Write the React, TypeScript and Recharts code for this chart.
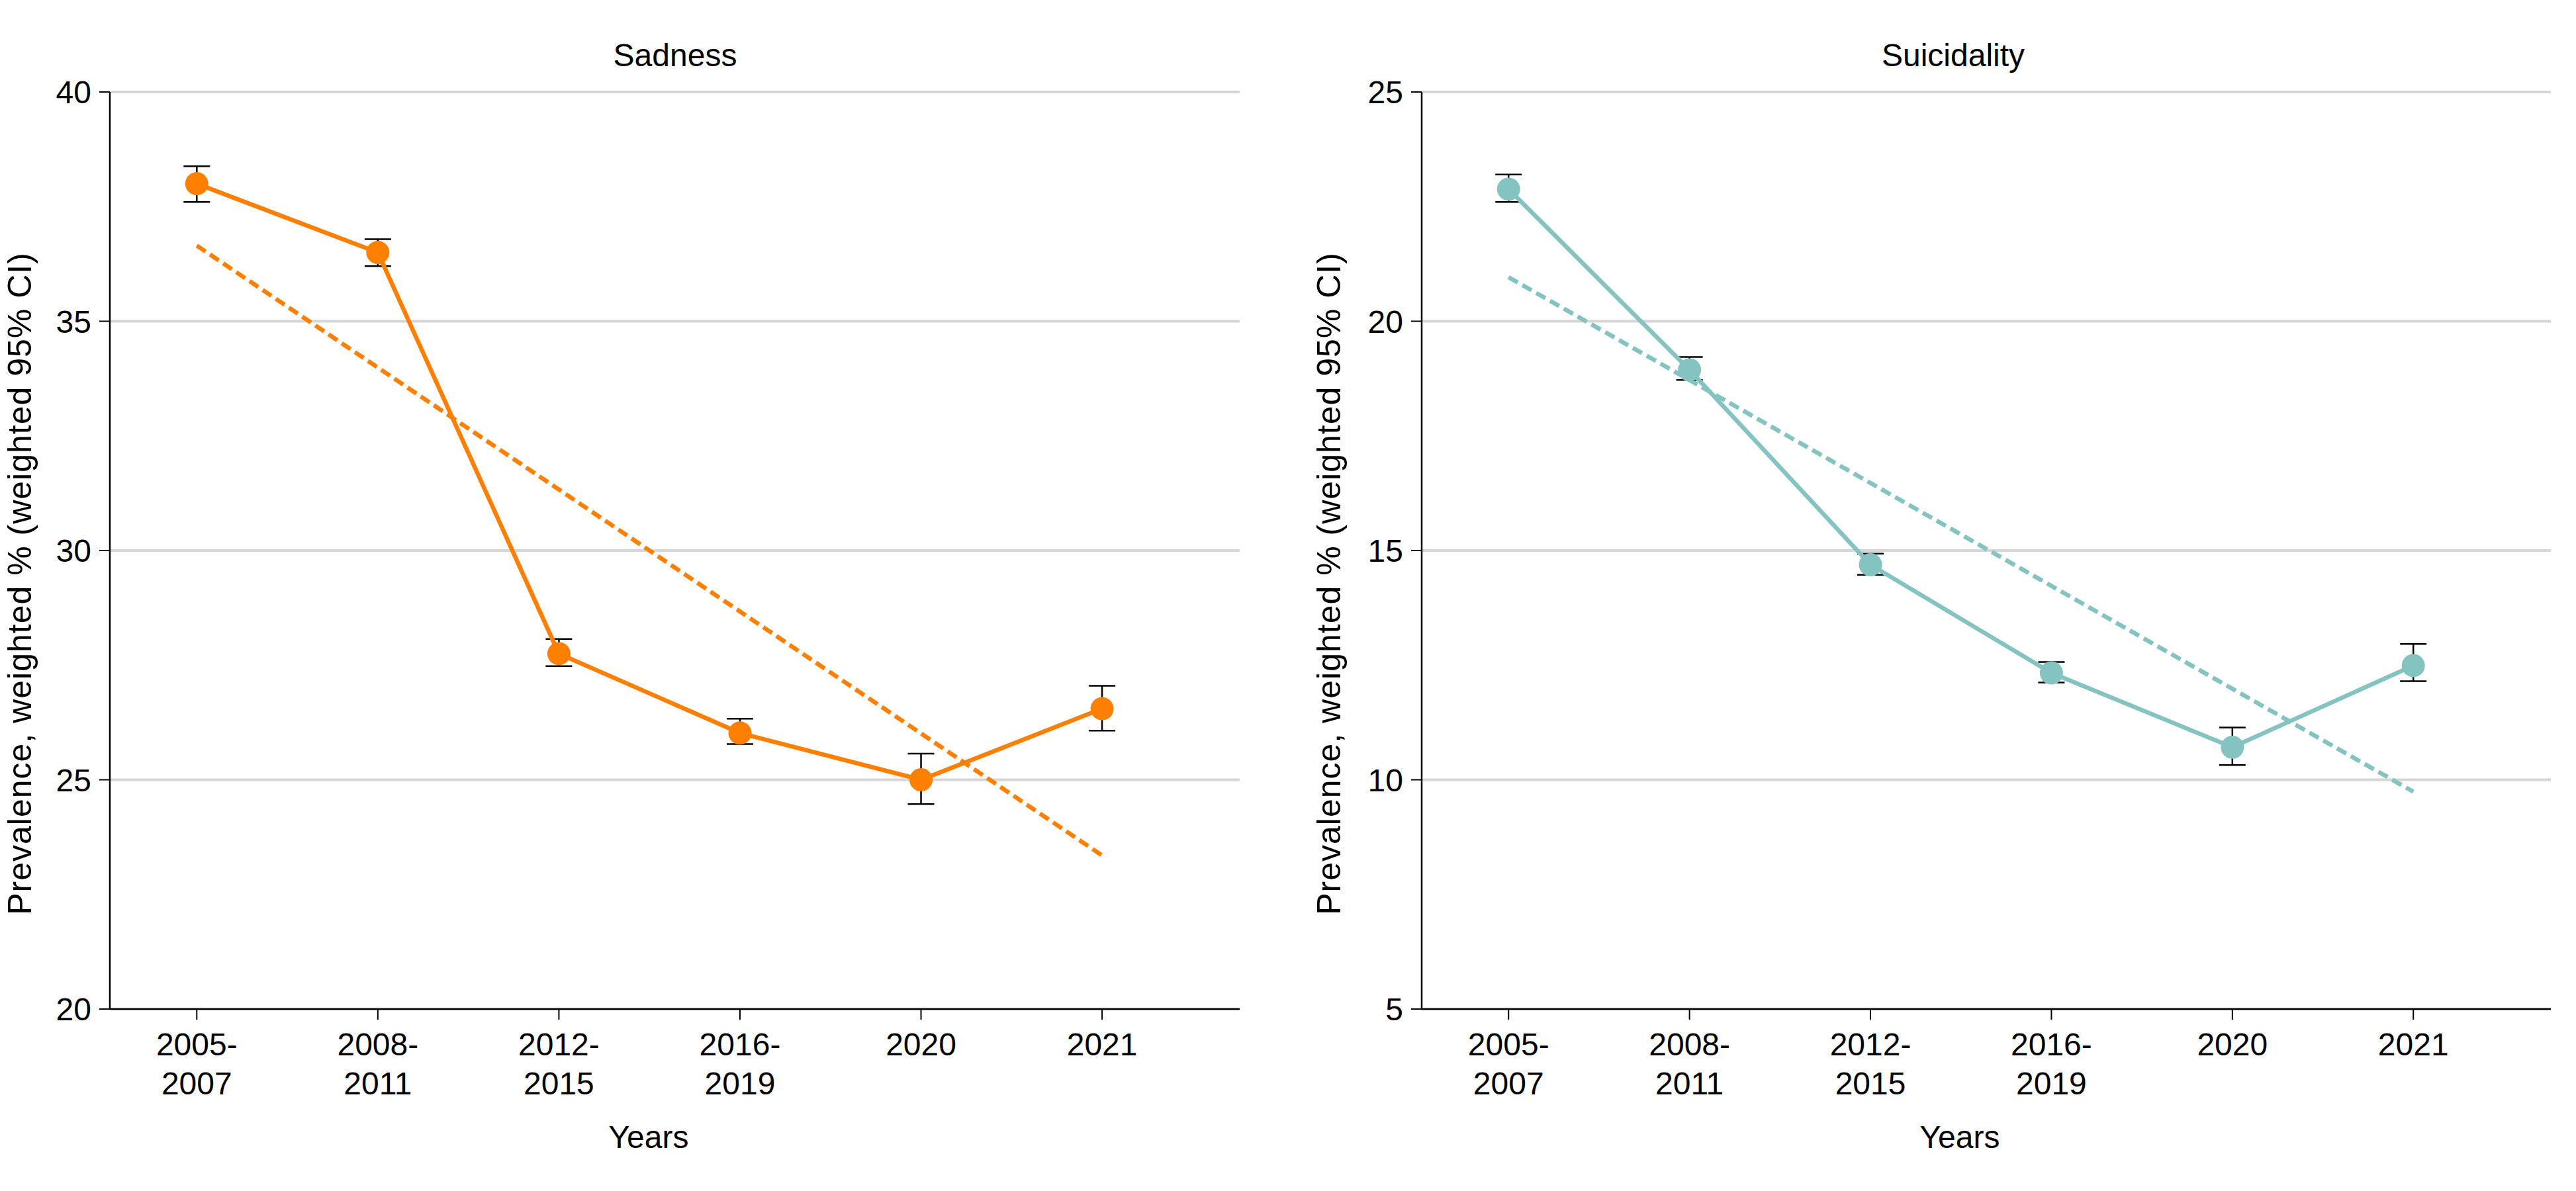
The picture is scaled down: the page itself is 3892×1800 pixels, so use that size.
import React from "react";
import {
  LineChart,
  Line,
  XAxis,
  YAxis,
  CartesianGrid,
  ErrorBar,
  Label,
} from "recharts";

// Survey periods (x axis), index 1..6
const periodIndex = [1, 2, 3, 4, 5, 6];
const periodLabels = [
  ["2005-", "2007"],
  ["2008-", "2011"],
  ["2012-", "2015"],
  ["2016-", "2019"],
  ["2020"],
  ["2021"],
];

// Sadness, weighted % with 95% CI
const sadnessValues = [38.0, 36.5, 27.75, 26.02, 25.0, 26.55];
const sadnessLow = [37.6, 36.2, 27.48, 25.78, 24.47, 26.07];
const sadnessHigh = [38.38, 36.79, 28.07, 26.33, 25.57, 27.05];
const sadnessTrend = [36.65, null, null, null, null, 23.35];
const sadnessTicks = [20, 25, 30, 35, 40];

// Suicidality, weighted % with 95% CI
const suicidalityValues = [22.88, 18.94, 14.69, 12.33, 10.71, 12.49];
const suicidalityLow = [22.6, 18.72, 14.47, 12.12, 10.32, 12.15];
const suicidalityHigh = [23.2, 19.22, 14.93, 12.57, 11.14, 12.96];
const suicidalityTrend = [20.96, null, null, null, null, 9.74];
const suicidalityTicks = [5, 10, 15, 20, 25];

const FONT = "'Liberation Sans', Arial, sans-serif";
const ORANGE = "#FF8000";
const TEAL = "#85C3C1";
const Y_LABEL = "Prevalence, weighted % (weighted 95% CI)";

type PanelProps = {
  title: string;
  values: number[];
  low: number[];
  high: number[];
  trend: (number | null)[];
  ticks: number[];
  color: string;
  left: number;
  width: number;
  margin: { top: number; right: number; bottom: number; left: number };
  titleX: number;
  yLabelX: number;
  yearsX: number;
};

const buildRows = (
  values: number[],
  low: number[],
  high: number[],
  trend: (number | null)[]
) =>
  periodIndex.map((idx, i) => ({
    idx,
    value: values[i],
    ci: [values[i] - low[i], high[i] - values[i]],
    trend: trend[i],
  }));

const PeriodTick = (props: any) => {
  const { x, y, payload } = props;
  const lines = periodLabels[payload.value - 1] || [];
  return (
    <text textAnchor="middle" fontSize={48} fill="#000" fontFamily={FONT}>
      {lines.map((line, i) => (
        <tspan key={i} x={x} y={y + 46 + i * 59}>
          {line}
        </tspan>
      ))}
    </text>
  );
};

const Panel: React.FC<PanelProps> = ({
  title,
  values,
  low,
  high,
  trend,
  ticks,
  color,
  left,
  width,
  margin,
  titleX,
  yLabelX,
  yearsX,
}) => {
  const rows = buildRows(values, low, high, trend);
  return (
    <div style={{ position: "absolute", left, top: 0 }}>
      <LineChart width={width} height={1800} data={rows} margin={margin}>
        <CartesianGrid vertical={false} stroke="#d6d6d6" strokeWidth={4} />
        <XAxis
          dataKey="idx"
          type="number"
          domain={[0.52, 6.76]}
          ticks={periodIndex}
          height={200}
          tickSize={16}
          tickMargin={8}
          tick={<PeriodTick />}
          axisLine={{ stroke: "#000", strokeWidth: 2.5 }}
          tickLine={{ stroke: "#000", strokeWidth: 2 }}
          allowDataOverflow
        >
          <Label
            content={() => (
              <text
                x={yearsX}
                y={1735}
                textAnchor="middle"
                fontSize={48}
                fontFamily={FONT}
                fill="#000"
              >
                Years
              </text>
            )}
          />
          <Label
            content={() => (
              <text
                x={titleX}
                y={100}
                textAnchor="middle"
                fontSize={48}
                fontWeight={500}
                fontFamily={FONT}
                fill="#000"
              >
                {title}
              </text>
            )}
          />
        </XAxis>
        <YAxis
          type="number"
          domain={[ticks[0], ticks[ticks.length - 1]]}
          ticks={ticks}
          width={166}
          tickSize={16}
          tickMargin={12}
          tick={{ fontSize: 48, fill: "#000", fontFamily: FONT }}
          axisLine={{ stroke: "#000", strokeWidth: 2.5 }}
          tickLine={{ stroke: "#000", strokeWidth: 2 }}
          label={{
            content: () => (
              <text
                transform={`translate(${yLabelX},882) rotate(-90)`}
                textAnchor="middle"
                dominantBaseline="central"
                fontSize={50}
                letterSpacing={1}
                fontFamily={FONT}
                fill="#000"
              >
                {Y_LABEL}
              </text>
            ),
          }}
        />
        <Line
          dataKey="trend"
          type="linear"
          stroke={color}
          strokeWidth={6.5}
          strokeDasharray="16 8"
          connectNulls
          dot={false}
          activeDot={false}
          isAnimationActive={false}
        />
        <Line
          dataKey="value"
          type="linear"
          stroke={color}
          strokeWidth={6.5}
          dot={{ r: 17.5, fill: color, stroke: "none" }}
          activeDot={false}
          isAnimationActive={false}
        >
          <ErrorBar
            dataKey="ci"
            direction="y"
            width={20}
            stroke="#000"
            strokeWidth={2.5}
            isAnimationActive={false}
          />
        </Line>
      </LineChart>
    </div>
  );
};

const App: React.FC = () => {
  return (
    <div
      style={{
        position: "absolute",
        left: 0,
        top: 0,
        width: 3892,
        height: 1800,
        background: "#fff",
      }}
    >
      <Panel
        title="Sadness"
        values={sadnessValues}
        low={sadnessLow}
        high={sadnessHigh}
        trend={sadnessTrend}
        ticks={sadnessTicks}
        color={ORANGE}
        left={0}
        width={1950}
        margin={{ top: 139, right: 77, bottom: 75, left: 0 }}
        titleX={1020}
        yLabelX={30}
        yearsX={980}
      />
      <Panel
        title="Suicidality"
        values={suicidalityValues}
        low={suicidalityLow}
        high={suicidalityHigh}
        trend={suicidalityTrend}
        ticks={suicidalityTicks}
        color={TEAL}
        left={1950}
        width={1942}
        margin={{ top: 139, right: 38, bottom: 75, left: 32 }}
        titleX={1001}
        yLabelX={58}
        yearsX={1011}
      />
    </div>
  );
};

export default App;
